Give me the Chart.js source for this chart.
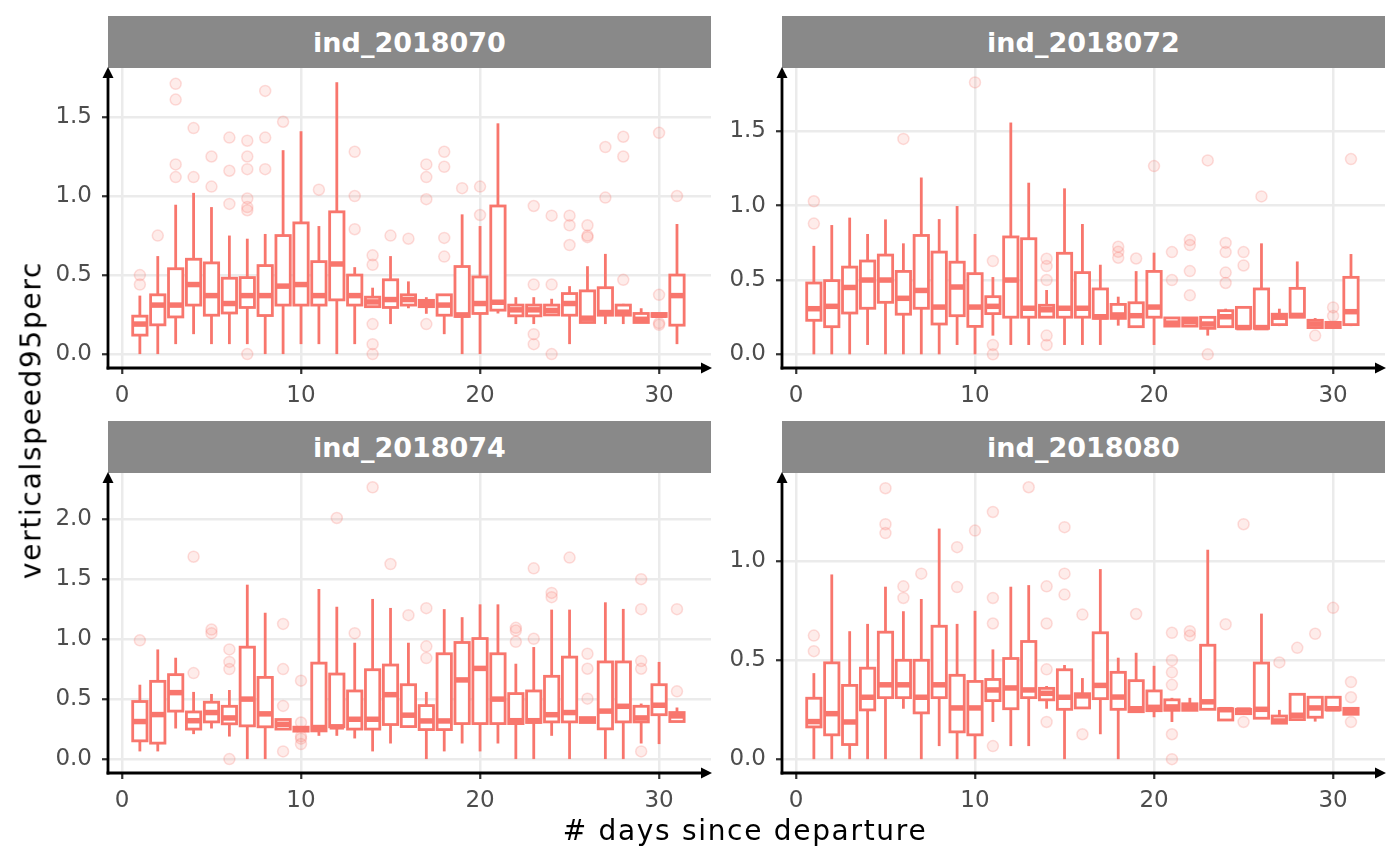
<!DOCTYPE html>
<html>
<head>
<meta charset="utf-8">
<script src="https://cdn.jsdelivr.net/npm/chart.js@4.4.1/dist/chart.umd.min.js"></script>
<style>
  body { margin: 0; background: #fff; width: 1400px; height: 865px; position: relative; overflow: hidden; font-family: 'DejaVu Sans', sans-serif; }
  .strip { position: absolute; width: 603px; height: 52px; background: #898989; color: #fff; font-weight: bold; font-size: 27px; display: flex; align-items: center; justify-content: center; }
  canvas { position: absolute; }
  .ttl { position: absolute; font-size: 28px; color: #000; white-space: nowrap; letter-spacing: 1.7px; transform: translate(-50%, -50%); }
</style>
</head>
<body>
<div class="strip" style="left:108px;top:16px">ind_2018070</div>
<div class="strip" style="left:782px;top:16px">ind_2018072</div>
<div class="strip" style="left:108px;top:421px">ind_2018074</div>
<div class="strip" style="left:782px;top:421px">ind_2018080</div>
<canvas id="c0"></canvas>
<canvas id="c1"></canvas>
<canvas id="c2"></canvas>
<canvas id="c3"></canvas>
<div class="ttl" style="left:745px;top:830px"># days since departure</div>
<div class="ttl" style="left:31px;top:420px;transform:translate(-50%,-50%) rotate(-90deg)">verticalspeed95perc</div>

<script>
// days since departure (same for every facet)
var days = [1,2,3,4,5,6,7,8,9,10,11,12,13,14,15,16,17,18,19,20,21,22,23,24,25,26,27,28,29,30,31];
var xTicks = [0, 10, 20, 30];

// ind_2018070
var p0Lo  = [0,0,0.063,0.126,0.063,0.063,0.063,0,0,0.063,0.063,0,0.063,0.30,0.19,0.29,0.255,0.126,0,0,0.257,0.19,0.19,0.248,0.063,0.20,0.19,0.19,0.20,0.238,0.063];
var p0Q1  = [0.12,0.185,0.235,0.31,0.246,0.26,0.295,0.244,0.31,0.31,0.31,0.343,0.31,0.30,0.295,0.31,0.30,0.246,0.238,0.257,0.278,0.242,0.242,0.248,0.246,0.20,0.246,0.246,0.20,0.238,0.183];
var p0Med = [0.19,0.31,0.31,0.44,0.37,0.32,0.37,0.37,0.43,0.44,0.37,0.57,0.37,0.33,0.345,0.345,0.32,0.31,0.248,0.32,0.328,0.28,0.28,0.276,0.32,0.227,0.263,0.265,0.22,0.246,0.37];
var p0Q3  = [0.24,0.375,0.54,0.60,0.577,0.48,0.484,0.56,0.75,0.83,0.585,0.90,0.50,0.36,0.47,0.375,0.34,0.375,0.554,0.488,0.937,0.31,0.31,0.31,0.383,0.40,0.42,0.31,0.257,0.257,0.50];
var p0Hi  = [0.37,0.62,0.945,1.02,0.93,0.75,0.73,0.76,1.29,1.41,0.81,1.72,0.55,0.42,0.62,0.46,0.36,0.375,0.884,0.81,1.46,0.36,0.36,0.35,0.43,0.556,0.634,0.318,0.29,0.257,0.823];
var p0OutDay = [1,1,2,3,3,3,3,4,4,5,5,6,6,6,7,7,7,7,7,7,7,8,8,8,9,11,13,13,13,14,14,14,14,14,15,16,17,17,17,17,18,18,18,18,19,20,20,23,23,23,23,24,24,24,25,25,25,26,26,26,27,27,28,28,28,30,30,30,30,31];
var p0OutVal = [0.50,0.44,0.75,1.71,1.61,1.20,1.12,1.43,1.12,1.25,1.06,1.37,1.16,0.95,1.35,1.25,1.17,0.985,0.93,0.91,0,1.665,1.37,1.17,1.47,1.04,1.28,1.0,0.79,0.625,0.565,0.19,0.063,0,0.75,0.73,1.20,1.12,0.98,0.19,1.28,1.185,0.735,0.617,1.05,1.06,0.88,0.937,0.44,0.126,0.063,0.876,0.44,0,0.876,0.815,0.69,0.815,0.75,0.74,1.31,0.99,1.375,1.25,0.47,1.40,0.375,0.196,0.185,1.0];

// ind_2018072
var p1Lo  = [0,0,0,0.063,0,0,0,0,0.063,0,0.126,0.063,0.063,0.25,0.063,0.063,0.063,0.193,0.186,0.063,0.186,0.19,0.126,0.186,0.175,0.175,0.19,0.25,0.18,0.18,0.19];
var p1Q1  = [0.229,0.186,0.278,0.31,0.35,0.27,0.31,0.204,0.26,0.188,0.274,0.25,0.25,0.25,0.25,0.25,0.242,0.242,0.186,0.25,0.19,0.19,0.175,0.186,0.175,0.175,0.20,0.25,0.18,0.18,0.20];
var p1Med = [0.307,0.323,0.45,0.5,0.5,0.377,0.43,0.318,0.453,0.318,0.323,0.5,0.31,0.30,0.31,0.31,0.253,0.265,0.26,0.318,0.21,0.22,0.204,0.253,0.18,0.18,0.25,0.262,0.204,0.197,0.287];
var p1Q3  = [0.48,0.496,0.587,0.628,0.668,0.558,0.80,0.688,0.62,0.543,0.388,0.79,0.778,0.33,0.68,0.55,0.44,0.336,0.347,0.558,0.245,0.245,0.249,0.294,0.316,0.44,0.27,0.444,0.229,0.215,0.518];
var p1Hi  = [0.73,0.87,0.92,0.81,0.908,0.747,1.19,0.91,0.998,0.81,0.52,1.56,1.155,0.433,1.117,0.877,0.603,0.388,0.56,0.684,0.249,0.249,0.249,0.307,0.316,0.747,0.307,0.625,0.244,0.215,0.675];
var p1OutDay = [1,1,6,10,11,11,11,14,14,14,14,14,18,18,18,19,20,21,21,22,22,22,22,23,23,24,24,24,24,25,25,26,29,30,30,31];
var p1OutVal = [1.03,0.88,1.45,1.83,0.628,0.063,0,0.643,0.594,0.5,0.126,0.063,0.724,0.69,0.65,0.645,1.267,0.688,0.5,0.769,0.735,0.56,0.397,1.305,0,0.75,0.688,0.55,0.48,0.688,0.598,1.063,0.126,0.316,0.258,1.314];

// ind_2018074
var p2Lo  = [0.064,0.064,0.255,0.208,0.255,0.188,0,0,0.25,0.233,0.194,0.194,0.172,0.064,0.13,0.26,0,0.064,0.13,0.064,0.13,0,0,0.194,0,0.305,0,0,0.13,0.125,0.313];
var p2Q1  = [0.152,0.133,0.40,0.25,0.31,0.294,0.277,0.269,0.25,0.233,0.235,0.269,0.25,0.25,0.288,0.271,0.246,0.246,0.296,0.296,0.296,0.296,0.305,0.31,0.31,0.305,0.252,0.31,0.31,0.37,0.313];
var p2Med = [0.313,0.371,0.554,0.32,0.388,0.343,0.50,0.377,0.29,0.252,0.263,0.269,0.332,0.332,0.537,0.366,0.318,0.318,0.66,0.756,0.50,0.32,0.32,0.37,0.388,0.327,0.40,0.44,0.343,0.449,0.36];
var p2Q3  = [0.48,0.648,0.704,0.393,0.474,0.44,0.933,0.681,0.33,0.266,0.80,0.709,0.568,0.745,0.784,0.62,0.446,0.878,0.972,1.005,0.878,0.546,0.568,0.69,0.85,0.346,0.81,0.81,0.44,0.62,0.388];
var p2Hi  = [0.62,0.914,0.845,0.56,0.543,0.576,1.454,1.22,0.33,0.266,1.418,1.27,0.97,1.335,1.26,0.97,0.56,1.25,1.183,1.29,1.29,0.795,0.934,1.246,1.246,0.346,1.307,1.252,0.463,0.81,0.43];
var p2OutDay = [1,4,4,5,5,6,6,6,6,9,9,9,9,10,10,10,10,10,12,13,14,15,16,17,17,17,22,22,22,23,23,24,24,25,26,26,26,29,29,29,29,29,31,31];
var p2OutVal = [0.99,1.687,0.717,1.08,1.05,0.914,0.81,0.75,0,1.127,0.75,0.443,0.064,0.654,0.305,0.19,0.17,0.125,2.01,1.05,2.266,1.626,1.20,1.258,0.94,0.842,1.094,1.072,0.978,1.59,1.003,1.385,1.35,1.68,0.878,0.753,0.504,1.50,1.25,0.817,0.753,0.064,1.25,0.565];

// ind_2018080
var p3Lo  = [0,0,0,0,0,0.255,0,0.066,0,0,0.188,0.066,0.066,0.255,0,0.259,0.126,0,0.24,0.212,0.188,0.247,0.252,0.198,0.23,0.207,0.182,0.20,0.19,0.249,0.227];
var p3Q1  = [0.163,0.123,0.074,0.249,0.311,0.311,0.234,0.311,0.138,0.123,0.296,0.255,0.311,0.30,0.252,0.259,0.306,0.252,0.24,0.245,0.247,0.247,0.252,0.198,0.23,0.207,0.182,0.20,0.212,0.249,0.227];
var p3Med = [0.19,0.23,0.188,0.313,0.376,0.376,0.313,0.376,0.259,0.259,0.35,0.36,0.35,0.333,0.313,0.32,0.373,0.314,0.255,0.262,0.264,0.265,0.29,0.25,0.248,0.252,0.193,0.222,0.259,0.255,0.242];
var p3Q3  = [0.308,0.487,0.373,0.46,0.642,0.50,0.50,0.672,0.424,0.393,0.403,0.509,0.595,0.358,0.452,0.331,0.639,0.439,0.397,0.345,0.30,0.28,0.576,0.255,0.252,0.486,0.218,0.328,0.313,0.313,0.257];
var p3Hi  = [0.435,0.934,0.647,0.684,0.872,0.748,0.81,1.166,0.684,0.75,0.555,0.872,0.88,0.37,0.476,0.41,0.961,0.513,0.538,0.472,0.31,0.31,1.059,0.255,0.252,0.736,0.249,0.328,0.313,0.313,0.257];
var p3OutDay = [1,1,5,5,5,6,6,7,9,9,10,11,11,11,11,13,14,14,14,14,15,15,15,16,16,19,21,21,21,21,21,21,22,22,24,25,25,27,28,29,30,31,31,31];
var p3OutVal = [0.625,0.546,1.37,1.188,1.143,0.874,0.815,0.938,1.072,0.87,1.156,1.25,0.815,0.686,0.066,1.375,0.874,0.686,0.454,0.188,1.173,0.938,0.832,0.731,0.126,0.734,0.639,0.5,0.439,0.376,0.126,0,0.647,0.625,0.682,1.188,0.188,0.489,0.563,0.634,0.765,0.39,0.313,0.188];

// axis ranges and y tick values per facet
var xMin = -0.78, xMax = 32.9;
var yMins = [-0.088, -0.092, -0.116, -0.07];
var yMaxs = [1.81, 1.927, 2.385, 1.447];
var yTickSets = [[0, 0.5, 1, 1.5], [0, 0.5, 1, 1.5], [0, 0.5, 1, 1.5, 2], [0, 0.5, 1]];

var panelStats = [
  { lo: p0Lo, q1: p0Q1, med: p0Med, q3: p0Q3, hi: p0Hi, outDay: p0OutDay, outVal: p0OutVal },
  { lo: p1Lo, q1: p1Q1, med: p1Med, q3: p1Q3, hi: p1Hi, outDay: p1OutDay, outVal: p1OutVal },
  { lo: p2Lo, q1: p2Q1, med: p2Med, q3: p2Q3, hi: p2Hi, outDay: p2OutDay, outVal: p2OutVal },
  { lo: p3Lo, q1: p3Q1, med: p3Med, q3: p3Q3, hi: p3Hi, outDay: p3OutDay, outVal: p3OutVal }
];

// where each plot area sits on the page
var areaLeft = [108, 782, 108, 782];
var areaTop = [68, 68, 473, 473];
var yAxisW = 70, xAxisH = 50, padTop = 10, padRight = 12;
var areaW = 603, areaH = 300;

function seg(ctx, x1, y1, x2, y2) {
  ctx.beginPath();
  ctx.moveTo(x1, y1);
  ctx.lineTo(x2, y2);
  ctx.stroke();
}

function boxPlugin(st) {
  return {
    id: 'boxes',
    afterDatasetsDraw: function (chart) {
      var ctx = chart.ctx, a = chart.chartArea;
      var x = chart.scales.x, y = chart.scales.y;
      var half = x.getPixelForValue(0.4) - x.getPixelForValue(0);
      ctx.save();
      ctx.beginPath();
      ctx.rect(a.left, a.top, a.right - a.left, a.bottom - a.top);
      ctx.clip();
      ctx.strokeStyle = '#F8766D';
      ctx.lineCap = 'butt';
      days.forEach(function (d, k) {
        var cx = x.getPixelForValue(d);
        var pLo = y.getPixelForValue(st.lo[k]);
        var pQ1 = y.getPixelForValue(st.q1[k]);
        var pMed = y.getPixelForValue(st.med[k]);
        var pQ3 = y.getPixelForValue(st.q3[k]);
        var pHi = y.getPixelForValue(st.hi[k]);
        ctx.lineWidth = 2.8;
        if (pLo > pQ1) seg(ctx, cx, pLo, cx, pQ1);
        if (pHi < pQ3) seg(ctx, cx, pQ3, cx, pHi);
        ctx.fillStyle = '#fff';
        ctx.fillRect(cx - half, pQ3, 2 * half, pQ1 - pQ3);
        ctx.strokeRect(cx - half, pQ3, 2 * half, pQ1 - pQ3);
        ctx.lineWidth = 5.5;
        seg(ctx, cx - half, pMed, cx + half, pMed);
      });
      ctx.restore();
    },
    afterDraw: function (chart) {
      var ctx = chart.ctx, a = chart.chartArea;
      ctx.save();
      ctx.strokeStyle = '#000';
      ctx.fillStyle = '#000';
      ctx.lineWidth = 2.8;
      seg(ctx, a.left, a.bottom + 1.4, a.left, a.top + 9);
      seg(ctx, a.left - 1.4, a.bottom, a.right - 9, a.bottom);
      ctx.beginPath();
      ctx.moveTo(a.left, a.top - 1);
      ctx.lineTo(a.left - 5.5, a.top + 10);
      ctx.lineTo(a.left + 5.5, a.top + 10);
      ctx.closePath();
      ctx.fill();
      ctx.beginPath();
      ctx.moveTo(a.right + 1, a.bottom);
      ctx.lineTo(a.right - 10, a.bottom - 5.5);
      ctx.lineTo(a.right - 10, a.bottom + 5.5);
      ctx.closePath();
      ctx.fill();
      ctx.restore();
    }
  };
}

function makePanel(i) {
  var st = panelStats[i];
  var canvas = document.getElementById('c' + i);
  var w = yAxisW + areaW + padRight, h = padTop + areaH + xAxisH;
  canvas.width = w;
  canvas.height = h;
  canvas.style.width = w + 'px';
  canvas.style.height = h + 'px';
  canvas.style.left = (areaLeft[i] - yAxisW) + 'px';
  canvas.style.top = (areaTop[i] - padTop) + 'px';

  var pts = st.outDay.map(function (d, k) { return { x: d, y: st.outVal[k] }; });
  var yTicks = yTickSets[i];

  new Chart(canvas, {
    type: 'scatter',
    data: {
      datasets: [{
        data: pts,
        pointRadius: 5.5,
        pointHoverRadius: 5.5,
        backgroundColor: 'rgba(248,118,109,0.14)',
        borderColor: 'rgba(248,118,109,0.24)',
        borderWidth: 1.5
      }]
    },
    options: {
      responsive: false,
      animation: false,
      devicePixelRatio: 1,
      layout: { padding: { top: padTop, right: padRight, left: 0, bottom: 0 } },
      plugins: { legend: { display: false }, tooltip: { enabled: false } },
      scales: {
        x: {
          type: 'linear',
          min: xMin,
          max: xMax,
          afterBuildTicks: function (s) { s.ticks = xTicks.map(function (v) { return { value: v }; }); },
          afterFit: function (s) { s.height = xAxisH; s.paddingLeft = 0; s.paddingRight = 0; },
          border: { display: false },
          grid: { color: '#ebebeb', lineWidth: 2.5, tickColor: '#333', tickLength: 6, tickWidth: 2.2 },
          ticks: {
            color: '#4d4d4d',
            font: { family: 'DejaVu Sans', size: 23 },
            padding: 8,
            autoSkip: false,
            maxRotation: 0,
            callback: function (v) { return String(v); }
          }
        },
        y: {
          type: 'linear',
          min: yMins[i],
          max: yMaxs[i],
          afterBuildTicks: function (s) { s.ticks = yTicks.map(function (v) { return { value: v }; }); },
          afterFit: function (s) { s.width = yAxisW; s.paddingTop = 0; s.paddingBottom = 0; },
          border: { display: false },
          grid: { color: '#ebebeb', lineWidth: 2.5, tickColor: '#333', tickLength: 6, tickWidth: 2.2 },
          ticks: {
            color: '#4d4d4d',
            font: { family: 'DejaVu Sans', size: 23 },
            padding: 10,
            autoSkip: false,
            callback: function (v) { return v.toFixed(1); }
          }
        }
      }
    },
    plugins: [boxPlugin(st)]
  });
}

for (var i = 0; i < 4; i++) makePanel(i);
</script>
</body>
</html>
